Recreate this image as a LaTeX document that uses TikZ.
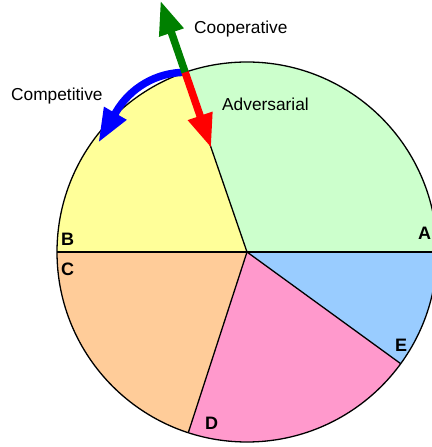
\documentclass[tikz,border=0pt]{standalone}
\usepackage{fontspec}
\setmainfont{Liberation Sans}
\usepackage{tikz}
\usetikzlibrary{arrows.meta}
\definecolor{pieGreen}{HTML}{CCFFCC}
\definecolor{pieYellow}{HTML}{FFFF99}
\definecolor{piePeach}{HTML}{FFCC99}
\definecolor{piePink}{HTML}{FF99CC}
\definecolor{pieBlue}{HTML}{99CCFF}
\definecolor{arrGreen}{HTML}{008000}

\begin{document}
\begin{tikzpicture}[x=1pt,y=1pt,font=\fontsize{17.3pt}{20pt}\selectfont,
        slice/.style={line width=1.3pt},
        move/.style={line width=7.5pt,-{Triangle[length=34pt,width=24pt]}},
        word/.style={anchor=base west,inner sep=0pt},
        letter/.style={anchor=base west,inner sep=0pt,font=\fontsize{18pt}{21pt}\selectfont\bfseries}]
        \useasboundingbox (0,0) rectangle (431,447);
        \coordinate (O) at (247,195);
        \path (O) ++(109:190) coordinate (P);

        % pie slices
        \fill[pieGreen]  (O) -- ++(0:190)   arc[start angle=0,   end angle=109, radius=190] -- cycle;
        \fill[pieYellow] (O) -- ++(109:190) arc[start angle=109, end angle=180, radius=190] -- cycle;
        \fill[piePeach]  (O) -- ++(180:190) arc[start angle=180, end angle=252, radius=190] -- cycle;
        \fill[piePink]   (O) -- ++(252:190) arc[start angle=252, end angle=324, radius=190] -- cycle;
        \fill[pieBlue]   (O) -- ++(324:190) arc[start angle=324, end angle=360, radius=190] -- cycle;
        \draw[slice] (O) circle[radius=190];
        \foreach \a in {0,109,180,252,324}
            \draw[slice] (O) -- ++(\a:190);

        % arrows
        \draw[move,blue] (P) arc[start angle=90, end angle=150, radius=80] -- ++(240:35);
        \draw[move,arrGreen] (P) -- ++(109:76);
        \draw[move,red] (P) -- ++(289:80);

        \node[word] (coop) at (194,413) {Cooperative};
        \node[word] (comp) at (11,346) {Competitive};
        \node[word] (adv)  at (222,336) {Adversarial};

        \node[letter] (labA) at (418,207)   {A};
        \node[letter] (labB) at (61,201)    {B};
        \node[letter] (labC) at (61,171.5)  {C};
        \node[letter] (labD) at (205,17)    {D};
        \node[letter] (labE) at (395,95.5)  {E};
    \end{tikzpicture}
\end{document}
